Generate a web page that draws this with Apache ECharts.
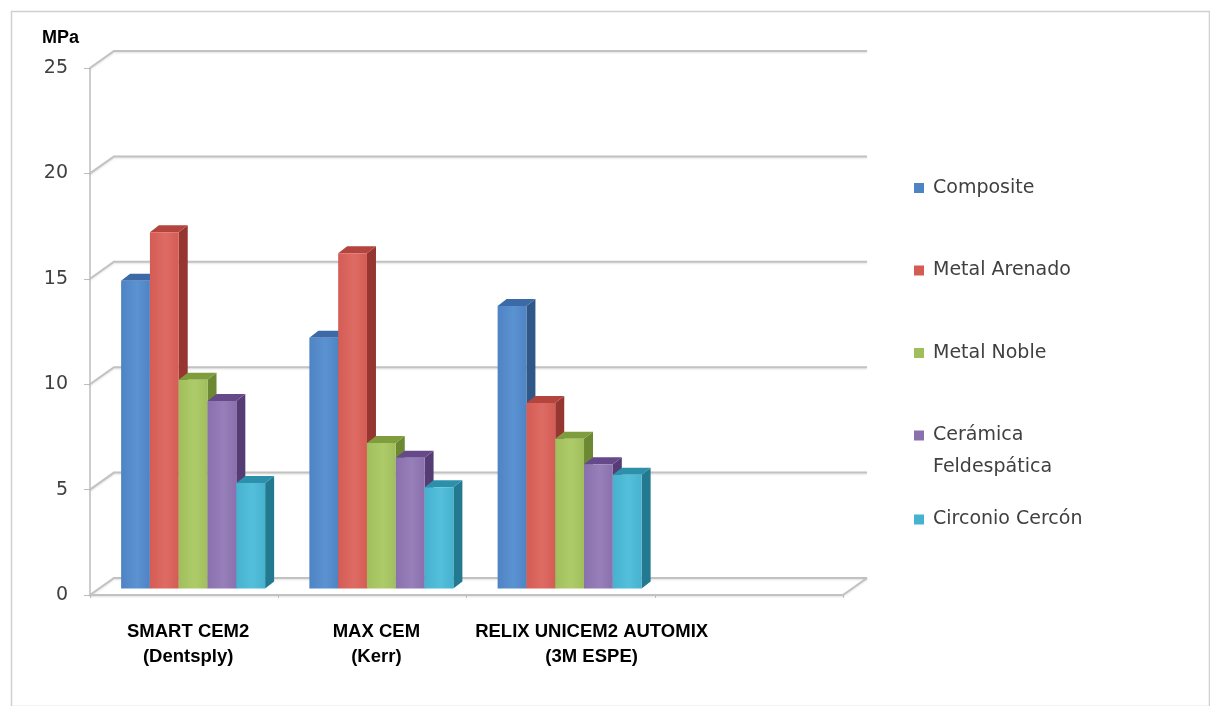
<!DOCTYPE html>
<html>
<head>
<meta charset="utf-8">
<script src="https://cdn.jsdelivr.net/npm/echarts@6/dist/echarts.min.js"></script>
<style>
html,body{margin:0;padding:0;background:#fff;}
#chart{width:1210px;height:706px;}
</style>
</head>
<body>
<div id="chart"></div>
<script>
// ---- data ----
const categories = ['SMART CEM2\n(Dentsply)', 'MAX CEM\n(Kerr)', 'RELIX UNICEM2 AUTOMIX\n(3M ESPE)', ''];
const seriesNames = ['Composite', 'Metal Arenado', 'Metal Noble', 'Cerámica Feldespática', 'Circonio Cercón'];
const composite    = [14.6, 11.9, 13.4];
const metalArenado = [16.9, 15.9, 8.8];
const metalNoble   = [9.9, 6.9, 7.1];
const ceramica     = [8.9, 6.2, 5.9];
const circonio     = [5.0, 4.8, 5.4];
const yTicks = [0, 5, 10, 15, 20, 25];

const seriesValues = [composite, metalArenado, metalNoble, ceramica, circonio];
const palette = [
  {front:'#4f84c4', light:'#5b92d2', top:'#3c6aa6', side:'#2f5889'},
  {front:'#d45c55', light:'#de6c64', top:'#b3443e', side:'#963630'},
  {front:'#a0bf5c', light:'#aecb6a', top:'#7f9d3d', side:'#6c8833'},
  {front:'#8a71ad', light:'#977fba', top:'#66498a', side:'#553c75'},
  {front:'#45b2cf', light:'#55bfdb', top:'#2d90ab', side:'#237990'}
];

// 3D projection offsets
const WALL_DX = 24, WALL_DY = -17;   // back wall offset
const BAR_DX = 9, BAR_DY = -6.5;     // bar front plane offset
const DEP_DX = 9, DEP_DY = -7;       // bar depth
const BAR_RATIO = 0.153;

function gridRender(params, api) {
  const cs = params.coordSys;
  const v = api.value(1);
  const y = api.coord([0, v])[1];
  const xL = cs.x, xR = cs.x + cs.width;
  const style = {stroke:'#c2c2c2', lineWidth:2, fill:null, shadowColor:'rgba(0,0,0,0.12)', shadowBlur:2, shadowOffsetY:1};
  const children = [{
    type:'polyline',
    shape:{points:[[xL, y], [xL + WALL_DX, y + WALL_DY], [xR + WALL_DX, y + WALL_DY]]},
    style: style, silent:true
  }];
  if (v === 0) {
    children.push({
      type:'polyline',
      shape:{points:[[xL, y], [xR, y], [xR + WALL_DX, y + WALL_DY]]},
      style: style, silent:true
    });
  }
  return {type:'group', children: children};
}

function makeBarRender(idx) {
  const c = palette[idx];
  return function (params, api) {
    const cat = api.value(0), val = api.value(1);
    const topPt = api.coord([cat, val]);
    const basePt = api.coord([cat, 0]);
    const band = api.size([1, 0])[0];
    const w = band * BAR_RATIO;
    const x0 = topPt[0] - 2.5 * w + idx * w + BAR_DX;
    const x1 = x0 + w;
    const yt = topPt[1] + BAR_DY;
    const yb = basePt[1] + BAR_DY;
    return {
      type:'group',
      children:[
        {type:'polygon', shape:{points:[[x1, yt], [x1 + DEP_DX, yt + DEP_DY], [x1 + DEP_DX, yb + DEP_DY], [x1, yb]]},
         style:{fill:c.side}},
        {type:'polygon', shape:{points:[[x0, yt], [x1, yt], [x1 + DEP_DX, yt + DEP_DY], [x0 + DEP_DX, yt + DEP_DY]]},
         style:{fill:c.top}},
        {type:'rect', shape:{x:x0, y:yt, width:w, height:yb - yt},
         style:{fill:{type:'linear', x:0, y:0, x2:1, y2:0,
           colorStops:[{offset:0, color:c.front}, {offset:0.55, color:c.light}, {offset:1, color:c.front}]}}}
      ]
    };
  };
}

const series = [{
  type:'custom', name:'grid3d', silent:true, z:1,
  renderItem: gridRender,
  data: yTicks.map(v => [0, v]),
  encode:{x:0, y:1},
  tooltip:{show:false}
}];
seriesValues.forEach((vals, i) => {
  series.push({
    type:'custom', name: seriesNames[i], z:2,
    renderItem: makeBarRender(i),
    itemStyle:{color: palette[i].front},
    data: vals.map((v, k) => [k, v]),
    encode:{x:0, y:1}
  });
});

const legendFont = {fontFamily:'DejaVu Sans', fontSize:19, color:'#404040', lineHeight:27, padding:[0,0,0,4]};
const legendBase = {orient:'vertical', left:914, padding:0, itemWidth:10, itemHeight:10, icon:'rect', textStyle: legendFont};

const chart = echarts.init(document.getElementById('chart'));
chart.setOption({
  animation:false,
  backgroundColor:'#ffffff',
  grid:{left:90, right:367, top:68, bottom:111, containLabel:false},
  xAxis:{
    type:'category', data: categories,
    axisLine:{show:false},
    axisTick:{show:true, length:3, lineStyle:{color:'#c8c8c8'}},
    axisLabel:{
      interval:0, margin:24,
      formatter: function (val, idx) {
        const key = idx === 2 ? 'c' : 'a';
        return val.split('\n').map(s => '{' + key + '|' + s + '}').join('\n');
      },
      rich:{
        a:{fontFamily:"'Liberation Sans',Arial,sans-serif", fontWeight:'bold', fontSize:18.5, color:'#000', lineHeight:25, padding:[0,0,0,8]},
        c:{fontFamily:"'Liberation Sans',Arial,sans-serif", fontWeight:'bold', fontSize:18.5, color:'#000', lineHeight:25, padding:[0,0,0,62]}
      }
    },
    splitLine:{show:false}
  },
  yAxis:{
    type:'value', min:0, max:25, interval:5,
    name:'MPa', nameLocation:'end', nameGap:21,
    nameTextStyle:{fontFamily:"'Liberation Sans',Arial,sans-serif", fontWeight:'bold', fontSize:18, color:'#000', align:'right', padding:[0,11,0,0]},
    axisLine:{show:true, lineStyle:{color:'#bdbdbd', width:1.5}},
    axisTick:{show:true, length:6, lineStyle:{color:'#bdbdbd'}},
    axisLabel:{fontFamily:'DejaVu Sans', fontSize:19, color:'#404040', margin:22},
    splitLine:{show:false}
  },
  legend:[
    Object.assign({}, legendBase, {
      data: seriesNames.slice(0, 3), top:174.5, itemGap:55.5
    }),
    Object.assign({}, legendBase, {
      data: [seriesNames[3]], top:386,
      formatter: function () { return '{e| }\n{a|Cerámica}\n{b|Feldespática}'; },
      textStyle: Object.assign({}, legendFont, {
        rich:{
          e:{fontFamily:'DejaVu Sans', fontSize:19, color:'#404040', lineHeight:36},
          a:{fontFamily:'DejaVu Sans', fontSize:19, color:'#404040', lineHeight:27},
          b:{fontFamily:'DejaVu Sans', fontSize:19, color:'#404040', lineHeight:36}
        }
      })
    }),
    Object.assign({}, legendBase, {
      data: [seriesNames[4]], top:506
    })
  ],
  graphic:[{
    type:'rect', left:9, top:9, silent:true,
    shape:{width:1198, height:695},
    style:{fill:null, stroke:'#d0d0d0', lineWidth:1.5}
  }],
  series: series
});
</script>
</body>
</html>
